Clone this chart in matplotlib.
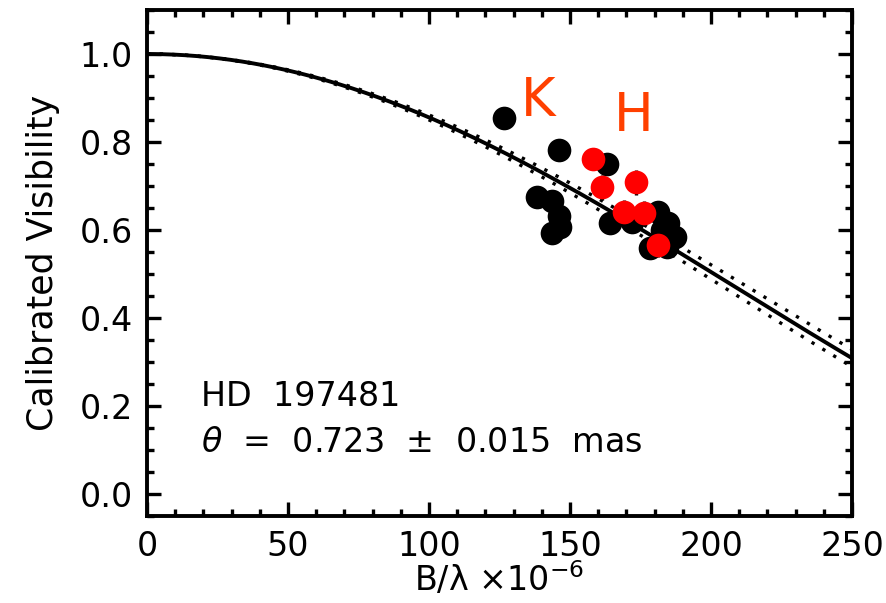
import numpy as np
import matplotlib
matplotlib.use("Agg")
from matplotlib import pyplot as plt
from matplotlib.ticker import MultipleLocator, FormatStrFormatter

# Measured visibilities: K band (black) and H band (red)
k_baseline = [126.6, 146.1, 163.1, 138.3, 143.6, 146.1, 146.5, 143.6,
              164.2, 172.0, 181.2, 184.8, 187.2, 178.4, 184.4, 182.6]
k_vis = [0.855, 0.781, 0.751, 0.674, 0.667, 0.631, 0.606, 0.593,
         0.615, 0.618, 0.640, 0.615, 0.584, 0.559, 0.561, 0.600]

h_baseline = [158.2, 161.3, 173.4, 169.1, 176.2, 181.2]
h_vis = [0.762, 0.697, 0.708, 0.640, 0.638, 0.566]
h_err = [0.025, 0.028, 0.028, 0.028, 0.028, 0.028]

# Uniform disk fit
star = "HD 197481"
theta = 0.723      # mas
theta_err = 0.015  # mas

MAS_TO_RAD = np.pi / (180.0 * 3600.0 * 1000.0)


def bessel_j1(x):
    """J1 via its integral form, J1(x) = 1/pi * int_0^pi cos(t - x sin t) dt."""
    t = np.linspace(0.0, np.pi, 2001)
    vals = np.cos(t[None, :] - np.outer(x, np.sin(t)))
    return np.trapezoid(vals, t, axis=1) / np.pi


def ud_visibility(bl, diam):
    """Uniform disk visibility for spatial frequency bl (x1e6) and diameter in mas."""
    x = np.pi * diam * MAS_TO_RAD * np.asarray(bl) * 1e6
    x = np.where(x == 0, 1e-12, x)
    return np.abs(2.0 * bessel_j1(x) / x)


bl = np.linspace(0.0, 250.0, 500)

fig = plt.figure(figsize=(8.86, 6.03), dpi=100)
ax = fig.add_axes([147 / 886, 1 - 516 / 603, 705 / 886, 506 / 603])

# Model curves
ax.plot(bl, ud_visibility(bl, theta), color="black", lw=2.8, zorder=2)
for d in (theta - theta_err, theta + theta_err):
    ax.plot(bl, ud_visibility(bl, d), color="black", lw=2.4,
            linestyle=(0, (1.0, 2.8)), dash_capstyle="butt", zorder=2)

# Data points
ax.scatter(k_baseline, k_vis, s=290, color="black", linewidths=0, zorder=3)
ax.errorbar(h_baseline, h_vis, yerr=h_err, fmt="none", ecolor="black",
            elinewidth=2.4, capsize=0, zorder=4)
ax.scatter(h_baseline, h_vis, s=290, color="#ff0000", linewidths=0, zorder=5)

# Band labels
ax.text(138.6, 0.894, "K", color="#ff4000", fontsize=38, ha="center", va="center")
ax.text(172.7, 0.86, "H", color="#ff4000", fontsize=38, ha="center", va="center")

# Star name and diameter
ax.text(19, 0.222, "HD  " + star[3:], fontsize=24, ha="left", va="center")
ax.text(19, 0.116, r"$\theta$  =  %.3f  $\pm$  %.3f  mas" % (theta, theta_err),
        fontsize=24, ha="left", va="center")

ax.set_xlim(0, 250)
ax.set_ylim(-0.05, 1.1)
ax.xaxis.set_major_locator(MultipleLocator(50))
ax.xaxis.set_minor_locator(MultipleLocator(10))
ax.yaxis.set_major_locator(MultipleLocator(0.2))
ax.yaxis.set_minor_locator(MultipleLocator(0.05))
ax.yaxis.set_major_formatter(FormatStrFormatter("%.1f"))

ax.tick_params(which="both", direction="in", top=True, right=True, width=2.4)
ax.tick_params(which="major", length=10, labelsize=24, pad=10)
ax.tick_params(which="minor", length=5)
ax.tick_params(axis="x", which="major", pad=10)
for spine in ax.spines.values():
    spine.set_linewidth(2.8)

ax.set_xlabel("B/λ ×10$^{-6}$", fontsize=24, labelpad=-2)
ax.set_ylabel("Calibrated Visibility", fontsize=25, labelpad=14)

fig.savefig("out.png", dpi=100)
